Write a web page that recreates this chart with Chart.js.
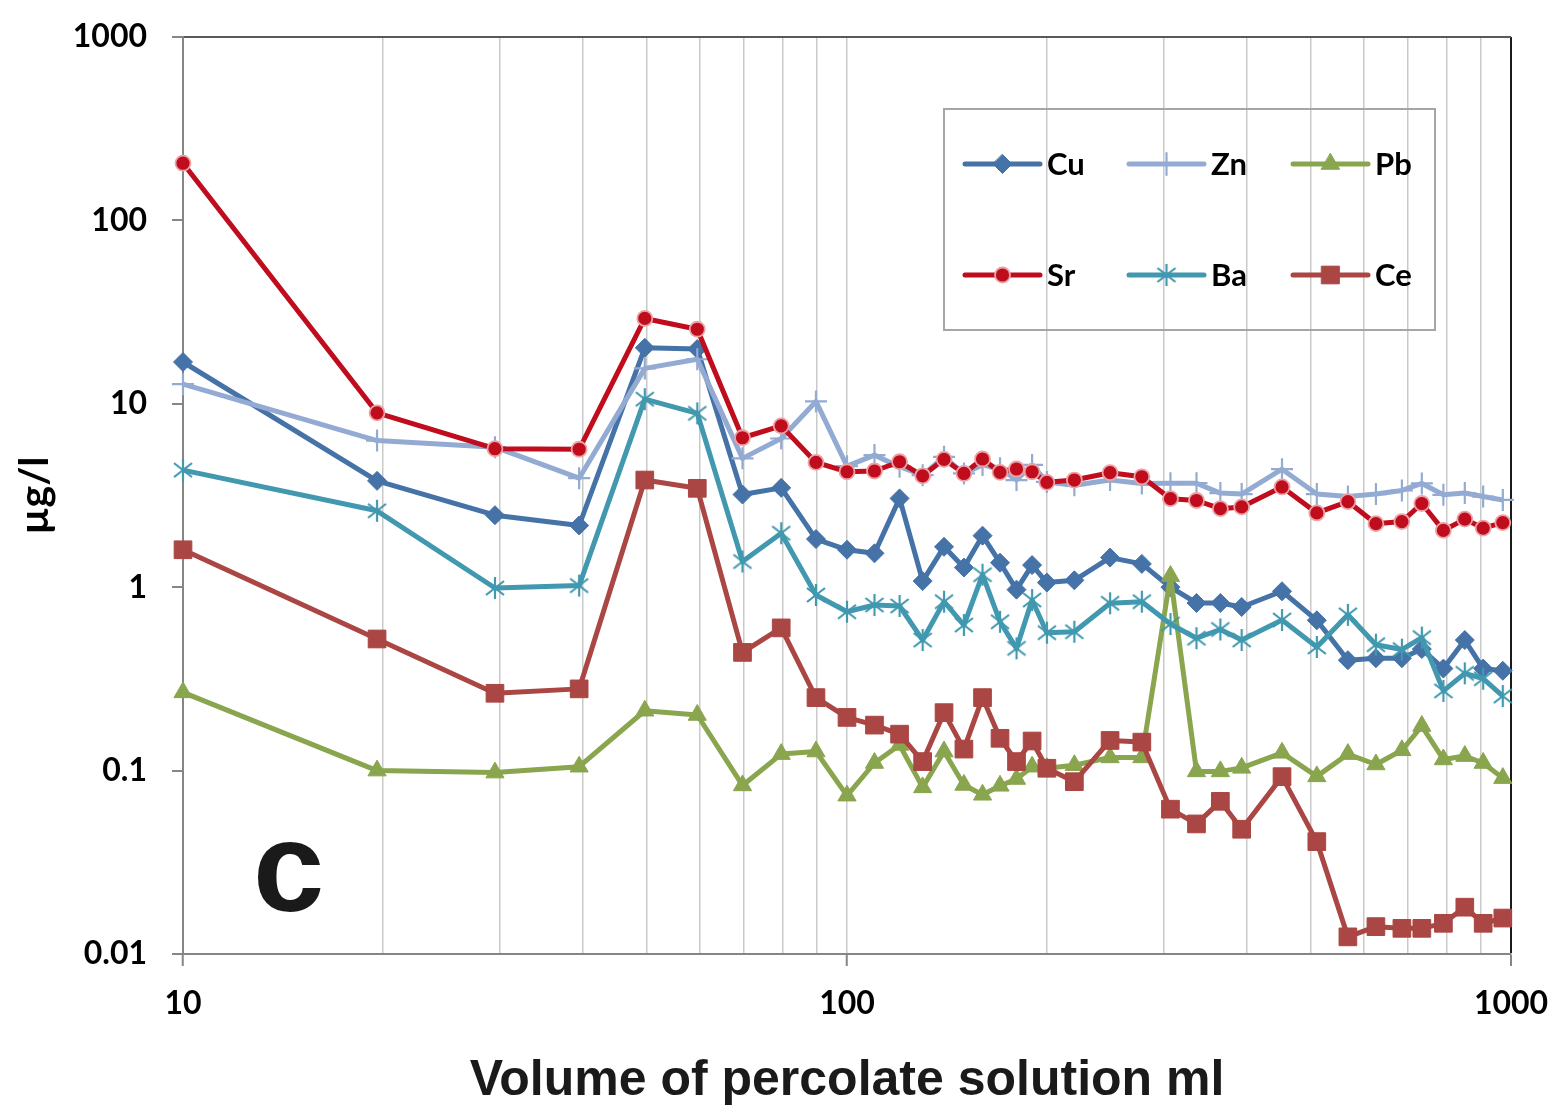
<!DOCTYPE html>
<html lang="en">
<head>
<meta charset="UTF-8">
<title>Percolate solution - element concentrations</title>
<script src="https://cdn.jsdelivr.net/npm/chart.js@4"></script>
<style>
  html, body { margin: 0; padding: 0; background: #fff; }
  #wrap { width: 1561px; height: 1109px; }
</style>
</head>
<body>
<div id="wrap"><canvas id="chart" width="1561" height="1109"></canvas></div>
<script>
// volume of percolate solution (ml) at each sample
const volume = [10, 19.6, 29.5, 39.5, 49.6, 59.5, 69.6, 79.6, 89.8, 100,
  110, 120, 130, 140, 150, 160, 170, 180, 190, 200,
  220, 249, 278, 307, 336, 365, 393, 452, 510, 568,
  626, 685, 734, 791, 852, 908, 972];

// concentrations, µg/l
const cu = [16.9, 3.8, 2.47, 2.17, 20.2, 19.9, 3.2, 3.48, 1.83, 1.6,
  1.53, 3.05, 1.08, 1.66, 1.28, 1.91, 1.36, 0.97, 1.32, 1.06,
  1.09, 1.45, 1.34, 1.0, 0.82, 0.82, 0.78, 0.95, 0.66, 0.40,
  0.41, 0.41, 0.46, 0.36, 0.515, 0.36, 0.35];
const zn = [12.8, 6.3, 5.8, 3.93, 15.6, 17.5, 5.04, 6.47, 10.3, 4.57,
  5.25, 4.54, 4.08, 5.14, 4.17, 4.64, 4.45, 3.84, 4.64, 3.75,
  3.6, 3.84, 3.68, 3.69, 3.69, 3.26, 3.22, 4.4, 3.22, 3.12,
  3.22, 3.37, 3.68, 3.19, 3.26, 3.12, 2.99];
const pb = [0.267, 0.1, 0.0975, 0.105, 0.212, 0.201, 0.083, 0.123, 0.127, 0.073,
  0.11, 0.138, 0.081, 0.127, 0.0835, 0.0738, 0.0826, 0.09, 0.105, 0.103,
  0.107, 0.118, 0.118, 1.15, 0.099, 0.099, 0.1035, 0.125, 0.093, 0.123,
  0.108, 0.129, 0.175, 0.115, 0.12, 0.11, 0.091];
const sr = [205, 8.93, 5.69, 5.65, 29.2, 25.5, 6.53, 7.58, 4.79, 4.26,
  4.3, 4.83, 4.05, 4.98, 4.17, 5.0, 4.23, 4.41, 4.26, 3.73,
  3.84, 4.21, 4.0, 3.04, 2.97, 2.68, 2.74, 3.52, 2.54, 2.93,
  2.22, 2.28, 2.86, 2.04, 2.35, 2.1, 2.25];
const ba = [4.35, 2.61, 0.99, 1.02, 10.6, 8.87, 1.38, 1.97, 0.907, 0.735,
  0.80, 0.79, 0.515, 0.834, 0.622, 1.17, 0.648, 0.464, 0.851, 0.565,
  0.572, 0.817, 0.834, 0.63, 0.527, 0.588, 0.515, 0.662, 0.472, 0.707,
  0.486, 0.457, 0.531, 0.272, 0.339, 0.317, 0.255];
const ce = [1.6, 0.522, 0.264, 0.279, 3.84, 3.46, 0.441, 0.60, 0.25, 0.195,
  0.177, 0.158, 0.112, 0.207, 0.131, 0.25, 0.15, 0.112, 0.145, 0.103,
  0.087, 0.146, 0.143, 0.0616, 0.0512, 0.068, 0.0479, 0.0927, 0.041, 0.0124,
  0.0141, 0.0138, 0.0138, 0.0147, 0.018, 0.0147, 0.0157];

const seriesNames = ['Cu', 'Zn', 'Pb', 'Sr', 'Ba', 'Ce'];
const seriesValues = [cu, zn, pb, sr, ba, ce];

// axis ticks
const xTicks = [10, 20, 30, 40, 50, 60, 70, 80, 90, 100, 200, 300, 400, 500, 600, 700, 800, 900, 1000];
const xLabelled = [10, 100, 1000];
const yTicks = [0.01, 0.1, 1, 10, 100, 1000];
const yTickLabels = ['0.01', '0.1', '1', '10', '100', '1000'];

// Excel style "star" marker: an X with a vertical bar
function starMarker(color) {
  const c = document.createElement('canvas');
  c.width = 24; c.height = 24;
  const g = c.getContext('2d');
  g.strokeStyle = color;
  g.lineWidth = 2.2;
  g.beginPath();
  g.moveTo(12, 1); g.lineTo(12, 23);
  g.moveTo(3, 5); g.lineTo(21, 19);
  g.moveTo(21, 5); g.lineTo(3, 19);
  g.stroke();
  return c;
}

const looks = {
  Cu: { color: '#4572a7', pointStyle: 'rectRot', radius: 9.5, fill: '#4572a7', border: '#4572a7', bw: 1 },
  Zn: { color: '#93abd3', pointStyle: 'cross', radius: 11, fill: '#93abd3', border: '#93abd3', bw: 2.2 },
  Pb: { color: '#89a54e', pointStyle: 'triangle', radius: 10.5, fill: '#89a54e', border: '#89a54e', bw: 1 },
  Sr: { color: '#c00d1e', pointStyle: 'circle', radius: 7.5, fill: '#c00d1e', border: '#eba3a6', bw: 1.8 },
  Ba: { color: '#4198af', pointStyle: starMarker('#4198af'), radius: 11, fill: '#4198af', border: '#4198af', bw: 2 },
  Ce: { color: '#aa4643', pointStyle: 'rect', radius: 12.5, fill: '#aa4643', border: '#aa4643', bw: 1 }
};

const datasets = seriesNames.map((name, i) => {
  const l = looks[name];
  return {
    label: name,
    data: volume.map((v, j) => ({ x: v, y: seriesValues[i][j] })),
    borderColor: l.color,
    backgroundColor: l.fill,
    borderWidth: 5,
    borderJoinStyle: 'round',
    pointStyle: l.pointStyle,
    pointRadius: l.radius,
    pointBackgroundColor: l.fill,
    pointBorderColor: l.border,
    pointBorderWidth: l.bw,
    tension: 0,
    clip: false,
    order: seriesNames.length - i   // later series drawn on top, as in the original
  };
});

function drawMarker(ctx, ds, x, y) {
  const style = ds.pointStyle, r = ds.pointRadius;
  ctx.save();
  if (typeof style !== 'string') {
    ctx.drawImage(style, x - style.width / 2, y - style.height / 2);
    ctx.restore();
    return;
  }
  ctx.fillStyle = ds.pointBackgroundColor;
  ctx.strokeStyle = ds.pointBorderColor;
  ctx.lineWidth = ds.pointBorderWidth;
  ctx.beginPath();
  if (style === 'cross') {
    ctx.moveTo(x, y - r); ctx.lineTo(x, y + r);
    ctx.moveTo(x - r, y); ctx.lineTo(x + r, y);
    ctx.stroke();
    ctx.restore();
    return;
  }
  if (style === 'circle') {
    ctx.arc(x, y, r, 0, Math.PI * 2);
  } else if (style === 'rectRot') {
    ctx.moveTo(x, y - r); ctx.lineTo(x + r, y); ctx.lineTo(x, y + r); ctx.lineTo(x - r, y); ctx.closePath();
  } else if (style === 'rect') {
    const s = r * Math.SQRT1_2;
    ctx.rect(x - s, y - s, 2 * s, 2 * s);
  } else if (style === 'triangle') {
    ctx.moveTo(x, y - r);
    ctx.lineTo(x + r * 0.866, y + r * 0.5);
    ctx.lineTo(x - r * 0.866, y + r * 0.5);
    ctx.closePath();
  }
  ctx.fill();
  ctx.stroke();
  ctx.restore();
}

// legend box (3 columns x 2 rows) and the panel letter
const panelPlugin = {
  id: 'panel',
  afterDraw(chart) {
    const ctx = chart.ctx;
    ctx.save();
    ctx.strokeStyle = '#a6a6a6';
    ctx.lineWidth = 2;
    ctx.strokeRect(944, 109, 491, 221);

    const colX = [965, 1129, 1293];
    const rowY = [164, 275];
    chart.data.datasets.forEach((ds, i) => {
      const x0 = colX[i % 3], y = rowY[Math.floor(i / 3)];
      ctx.strokeStyle = ds.borderColor;
      ctx.lineWidth = 5;
      ctx.lineCap = 'round';
      ctx.beginPath();
      ctx.moveTo(x0, y); ctx.lineTo(x0 + 75, y);
      ctx.stroke();
      drawMarker(ctx, ds, x0 + 37.5, y);
      ctx.fillStyle = '#000';
      ctx.font = 'bold 31px Lato';
      ctx.textAlign = 'left';
      ctx.textBaseline = 'middle';
      ctx.fillText(ds.label, x0 + 82, y + 1);
    });

    ctx.fillStyle = '#1a1a1a';
    ctx.font = 'bold 128px "Liberation Sans"';
    ctx.textAlign = 'left';
    ctx.textBaseline = 'alphabetic';
    ctx.fillText('c', 253, 911);
    ctx.restore();
  }
};

// keep the plot area where the original has it
function noPad(s) {
  s.paddingTop = 0; s.paddingBottom = 0; s.paddingLeft = 0; s.paddingRight = 0;
}

new Chart(document.getElementById('chart'), {
  type: 'line',
  data: { datasets },
  options: {
    responsive: false,
    animation: false,
    events: [],
    layout: { padding: { top: 37, right: 50, left: 0, bottom: 0 } },
    plugins: { legend: { display: false }, tooltip: { enabled: false } },
    scales: {
      x: {
        type: 'logarithmic',
        min: 10,
        max: 1000,
        afterBuildTicks: s => { s.ticks = xTicks.map(v => ({ value: v })); },
        afterFit: s => { s.height = 155; noPad(s); },
        ticks: {
          autoSkip: false,
          maxRotation: 0,
          padding: 18,
          color: '#000',
          font: { family: 'Lato', weight: 'bold', size: 32 },
          callback: v => xLabelled.includes(v) ? String(v) : ''
        },
        grid: {
          color: c => c.tick.value === 1000 ? '#1a1a1a' : (c.tick.value === 10 ? 'rgba(0,0,0,0)' : '#c9c9c9'),
          lineWidth: c => c.tick.value === 1000 ? 2 : 1.5,
          tickLength: 12,
          tickColor: c => xLabelled.includes(c.tick.value) ? '#868686' : 'rgba(0,0,0,0)',
          tickWidth: 2
        },
        border: { color: '#868686', width: 2 },
        title: {
          display: true,
          text: 'Volume of percolate solution ml',
          color: '#1a1a1a',
          font: { family: 'Liberation Sans', weight: 'bold', size: 50, lineHeight: 1.1 },
          padding: { top: 0, bottom: 0 }
        }
      },
      y: {
        type: 'logarithmic',
        min: 0.01,
        max: 1000,
        afterBuildTicks: s => { s.ticks = yTicks.map(v => ({ value: v })); },
        afterFit: s => { s.width = 183; noPad(s); },
        ticks: {
          padding: 25,
          color: '#000',
          font: { family: 'Lato', weight: 'bold', size: 32 },
          callback: (v, i) => yTickLabels[i]
        },
        grid: {
          color: c => c.tick.value === 1000 ? '#595959' : 'rgba(0,0,0,0)',
          lineWidth: 2,
          tickLength: 11,
          tickColor: '#868686',
          tickWidth: 2
        },
        border: { color: '#868686', width: 2 },
        title: {
          display: true,
          text: 'µg/l',
          color: '#000',
          font: { family: 'Lato', weight: 'bold', size: 41, lineHeight: 1.2 },
          padding: { top: 10, bottom: 0 }
        }
      }
    }
  },
  plugins: [panelPlugin]
});
</script>
</body>
</html>
